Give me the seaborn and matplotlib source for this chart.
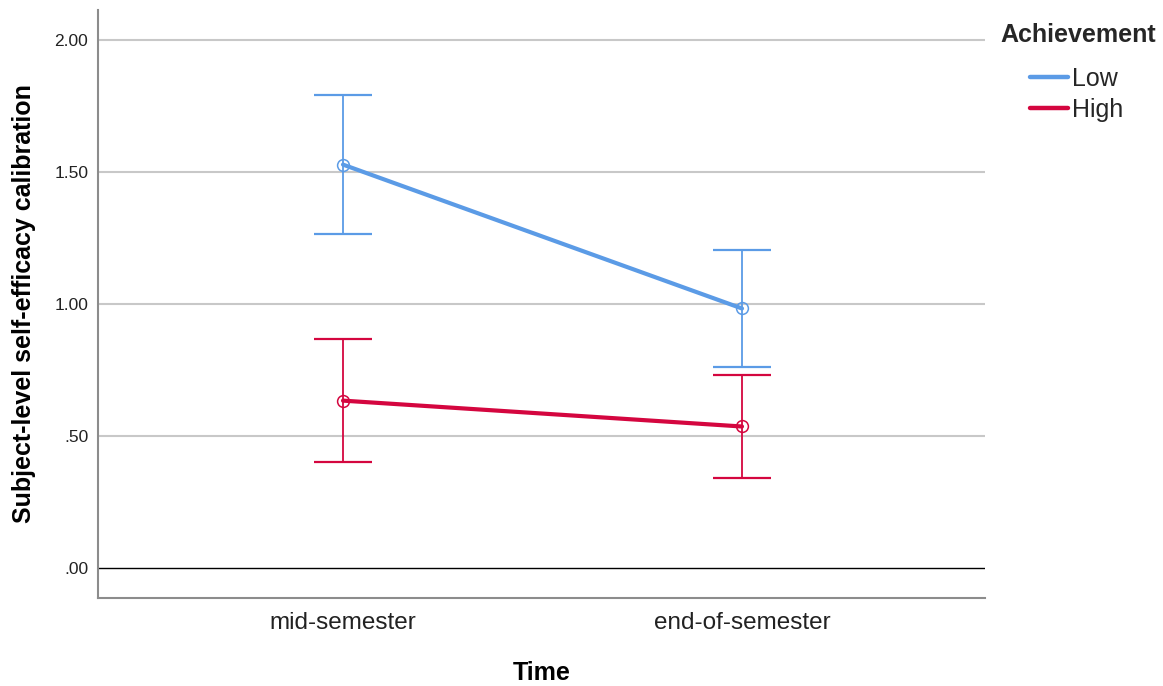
import numpy as np
import pandas as pd
import seaborn as sns
import matplotlib.pyplot as plt
from matplotlib.lines import Line2D

# Estimated marginal means with 95% CI by time and achievement group
times = ["mid-semester", "end-of-semester"]
groups = ["Low", "High"]
mean_low = [1.528, 0.983]
mean_high = [0.634, 0.536]
ci_lower_low = [1.265, 0.761]
ci_upper_low = [1.792, 1.205]
ci_lower_high = [0.402, 0.341]
ci_upper_high = [0.866, 0.731]
y_ticks = [0.0, 0.5, 1.0, 1.5, 2.0]
y_tick_labels = [".00", ".50", "1.00", "1.50", "2.00"]

palette = {"Low": "#5B9BE6", "High": "#D4063F"}

sns.set_theme(style="white")
plt.rcParams["font.family"] = ["Liberation Sans", "DejaVu Sans"]

df = pd.DataFrame({
    "Time": times * 2,
    "Achievement": [groups[0]] * 2 + [groups[1]] * 2,
    "mean": mean_low + mean_high,
    "lower": ci_lower_low + ci_lower_high,
    "upper": ci_upper_low + ci_upper_high,
})

W, H = 1163, 686
fig = plt.figure(figsize=(W / 100, H / 100), dpi=100)
ax = fig.add_axes([98 / W, 1 - 598 / H, (985 - 98) / W, (598 - 10) / H])

# reference grid and zero line
for yt in y_ticks[1:]:
    ax.axhline(yt, color="#C8C8C8", lw=1.5, zorder=0)
ax.axhline(0, color="black", lw=1.0, zorder=1)

sns.pointplot(data=df, x="Time", y="mean", hue="Achievement",
              order=times, hue_order=groups, palette=palette,
              errorbar=None, markers="o", linestyles="-", legend=False,
              ax=ax, zorder=3)

for line in ax.lines:
    if line.get_marker() == "o":
        line.set_linewidth(3.0)
        line.set_markerfacecolor("none")
        line.set_markersize(8.5)
        line.set_markeredgewidth(1.1)

# confidence interval whiskers
pos = np.arange(len(times))
for g in groups:
    sub = df[df["Achievement"] == g].set_index("Time").loc[times]
    yerr = np.vstack([sub["mean"] - sub["lower"], sub["upper"] - sub["mean"]])
    ax.errorbar(pos, sub["mean"], yerr=yerr, fmt="none", ecolor=palette[g],
                elinewidth=1.3, capsize=21, capthick=1.6, zorder=2)

ax.set_xlim(-0.614, 1.609)
ax.set_ylim(-0.1136, 2.1136)
ax.set_yticks(y_ticks)
ax.set_yticklabels(y_tick_labels, fontsize=12.5, color="#222222")
ax.set_xticks(pos)
ax.set_xticklabels(times, fontsize=17.5, color="#222222")
ax.tick_params(axis="both", length=0)
ax.tick_params(axis="y", pad=7)
ax.tick_params(axis="x", pad=10)

for side in ["top", "right"]:
    ax.spines[side].set_visible(False)
for side in ["left", "bottom"]:
    ax.spines[side].set_color("#8C8C8C")
    ax.spines[side].set_linewidth(1.5)

ax.set_xlabel("Time", fontsize=18, fontweight="bold", color="black")
ax.set_ylabel("Subject-level self-efficacy calibration", fontsize=18,
              fontweight="bold", color="black")
ax.xaxis.set_label_coords(0.5, -(673 - 598) / 588)
ax.xaxis.label.set_va("center")
ax.yaxis.set_label_coords((36 - 98) / 887, 0.5)

# legend
fig.text(1000 / W, 1 - 35 / H, "Achievement", fontsize=18, fontweight="bold",
         ha="left", va="center")
handles = [Line2D([], [], color=palette[g], lw=3.2) for g in groups]
fig.legend(handles, groups, loc="upper left",
           bbox_to_anchor=(1030 / W, 1 - 67 / H), frameon=False,
           fontsize=18, borderpad=0, handlelength=1.5, handletextpad=0.2,
           labelspacing=0.26, borderaxespad=0)

fig.savefig("out.png", dpi=100)
